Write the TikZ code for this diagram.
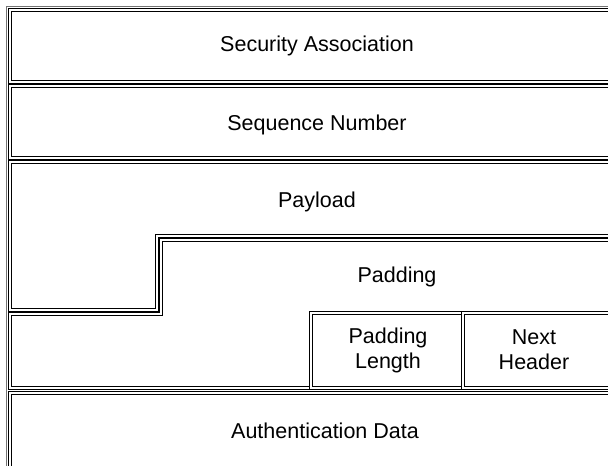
\documentclass[tikz,border=0pt]{standalone}
\usepackage{fontspec}
\setmainfont{Liberation Sans}
\begin{document}
\begin{tikzpicture}[x=1pt,y=-1pt,
  cell/.style={draw=black,double=white,double distance=1.3pt,line width=1.4pt,line join=miter},
  frame/.style={draw=black!55,double=white,double distance=1.4pt,line width=0.8pt},
  lbl/.style={font=\fontsize{21.5}{25}\selectfont,align=center,inner sep=0pt}]
\useasboundingbox (0,0) rectangle (608,466);
\clip (0,0) rectangle (608,466);

% ---- outer frame
\draw[frame] (5,5) rectangle (650,500);

% ---- header rows
\draw[cell] (10,10) rectangle (640,82);
\draw[cell] (10,86) rectangle (640,158);

% ---- payload and padding
\draw[cell] (10,162) -- (640,162) -- (640,236) -- (157,236) -- (157,310) -- (10,310) -- cycle;
\draw[cell] (161,240) -- (640,240) -- (640,313) -- (311,313) -- (311,388) -- (10,388) -- (10,314) -- (161,314) -- cycle;

% ---- trailer
\draw[cell] (311,313) rectangle (463,388);
\draw[cell] (463,313) rectangle (640,388);
\draw[cell] (10,393) rectangle (640,500);

% ---- labels
\node[lbl] (sa)  at (317,46)  {Security Association};
\node[lbl] (seq) at (317,125) {Sequence Number};
\node[lbl] (pay) at (317,202) {Payload};
\node[lbl] (pad) at (397,277) {Padding};
\node[lbl] (pl)  at (388,350) {Padding\\Length};
\node[lbl] (nh)  at (534,350) {Next\\Header};
\node[lbl] (ad)  at (325,431) {Authentication Data};
\end{tikzpicture}
\end{document}
